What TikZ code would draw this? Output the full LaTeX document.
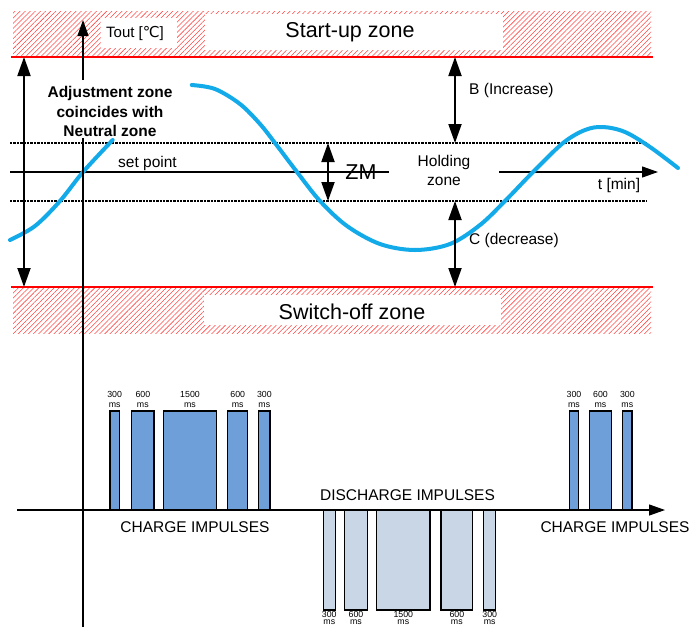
\documentclass[tikz,border=0pt]{standalone}
\usepackage{fontspec}
\setmainfont{Liberation Sans}
\newfontfamily\dejavu{DejaVu Sans}
\usetikzlibrary{arrows.meta,patterns.meta}
\definecolor{curvecol}{RGB}{18,170,232}
\definecolor{chargecol}{RGB}{111,159,216}
\definecolor{dischargecol}{RGB}{201,214,230}
\definecolor{hatchcol}{RGB}{255,70,70}
\begin{document}
\begin{tikzpicture}[x=1pt,y=-1pt,
  hatchband/.style={pattern={Lines[angle=45,distance=3.6pt,line width=0.55pt]},pattern color=hatchcol},
  redline/.style={red,line width=1.3pt},
  dotline/.style={black,line width=2.5pt,dash pattern=on 2.4pt off 1pt},
  thin/.style={black,line width=1.2pt},
  dblarrow/.style={black,line width=1.9pt,{Triangle[length=19pt,width=13pt]}-{Triangle[length=19pt,width=13pt]}},
  axisarrow/.style={black,line width=1.2pt,-{Triangle[length=16pt,width=11pt]}},
  wave/.style={curvecol,line width=4pt,line cap=round},
  txt/.style={font=\fontsize{15.5}{19}\selectfont,inner sep=0pt,align=center},
  big/.style={font=\fontsize{21.5}{22}\selectfont,inner sep=0pt},
  lbl/.style={font=\fontsize{8.8}{8.8}\selectfont,inner sep=0pt},
  chg/.style={draw=black,line width=1.2pt,fill=chargecol},
  dchg/.style={draw=black,line width=1.2pt,fill=dischargecol}
]
\useasboundingbox (0,0) rectangle (698,627);
\fill[white] (0,0) rectangle (698,627);

% hatched zones
\fill[hatchband] (13,11) rectangle (651,57);
\fill[hatchband] (13,287) rectangle (651,333);
\fill[white] (101,18) rectangle (177,48);
\fill[white] (205,14) rectangle (503,50);
\fill[white] (204,295) rectangle (501,325);
\draw[redline] (11,57) -- (653,57);
\draw[redline] (11,287) -- (653,287);

% dotted limits of the neutral zone
\draw[dotline] (10,143) -- (647,143);
\draw[dotline] (10,201) -- (647,201);

% set point line and time axis
\coordinate (sp0) at (10,172);
\coordinate (sp1) at (389,172);
\coordinate (t0) at (499,172);
\coordinate (t1) at (658,172);
\draw[thin] (sp0) -- (sp1);
\draw[axisarrow] (t0) -- (t1);

% temperature curve
\draw[wave] plot[smooth,tension=0.55] coordinates {(10,240) (35,226) (60,201) (83,172) (112.7,140)};
\draw[wave] plot[smooth,tension=0.55] coordinates {(191.7,85) (215,89) (240,104) (260,124) (275,143) (297,172) (320,201) (347,226) (380,244) (415,250) (450,244) (480,225) (505,201) (533,172) (563,143) (585,130) (603,127) (625,132) (650,147) (678,168)};

% vertical axis
\coordinate (v0) at (83,627);
\coordinate (v1) at (83,138);
\coordinate (v2) at (83,80);
\coordinate (v3) at (83,20);
\draw[thin] (v0) -- (v1);
\draw[axisarrow] (v2) -- (v3);

% zone arrows
\coordinate (a0) at (24,57);   \coordinate (a1) at (24,287);
\coordinate (b0) at (455,57);  \coordinate (b1) at (455,143);
\coordinate (c0) at (455,201); \coordinate (c1) at (455,287);
\coordinate (z0) at (328,143); \coordinate (z1) at (328,201);
\draw[dblarrow] (a0) -- (a1);
\draw[dblarrow] (b0) -- (b1);
\draw[dblarrow] (c0) -- (c1);
\draw[dblarrow] (z0) -- (z1);

% texts
\node[txt,font=\fontsize{15}{15}\selectfont] (tout) at (135,33) {Tout [{\dejavu ℃}]};
\node[big] (startup) at (350,32) {Start-up zone};
\node[big] (switchoff) at (352,312) {Switch-off zone};
\node[txt,font=\bfseries\fontsize{15.5}{19.6}\selectfont] (adj) at (110,111.5) {Adjustment zone\\coincides with\\Neutral zone};
\node[txt] (setp) at (147.5,163) {set point};
\node[big] (zm) at (361,172) {ZM};
\node[txt] (hold) at (444,170) {Holding\\zone};
\node[txt] (tmin) at (619,185) {t [min]};
\node[txt,anchor=west] (binc) at (469,90) {B (Increase)};
\node[txt,anchor=west] (cdec) at (469,240) {C (decrease)};

% impulse axis
\coordinate (h0) at (17,510);
\coordinate (h1) at (665,510);
\draw[axisarrow] (h0) -- (h1);

\foreach \a/\b/\n [count=\i] in {110/119.3/300, 131.7/154/600, 163.3/216.7/1500, 227.7/247.7/600, 258.7/270/300, 569.3/578.7/300, 589.3/611.7/600, 622.7/632/300} {
  \draw[chg] (\a,411) rectangle (\b,510);
  \node[lbl] (cn\i) at ({(\a+\b)/2},394) {\n};
  \node[lbl] (cm\i) at ({(\a+\b)/2},405.5) {ms};
}
\foreach \a/\b/\n [count=\i] in {323.3/335.3/300, 344.7/367.3/600, 376.7/430/1500, 441/472.7/600, 483.7/495.7/300} {
  \draw[dchg] (\a,510.7) rectangle (\b,610);
  \node[lbl] (dn\i) at ({(\a+\b)/2},614) {\n};
  \node[lbl] (dm\i) at ({(\a+\b)/2},622) {ms};
}

\node[txt] (chl) at (195,527) {CHARGE IMPULSES};
\node[txt] (chr) at (615,527) {CHARGE IMPULSES};
\node[txt] (dis) at (407.5,495) {DISCHARGE IMPULSES};
\end{tikzpicture}
\end{document}
